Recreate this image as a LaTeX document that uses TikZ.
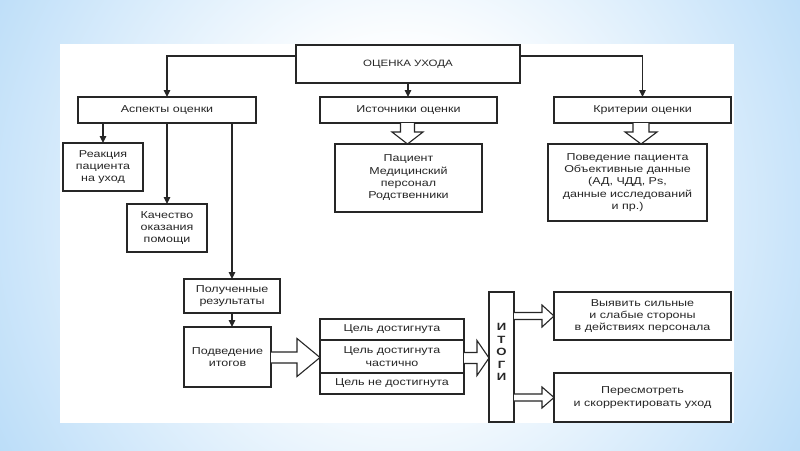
\documentclass[tikz,border=0pt]{standalone}
\usepackage{fontspec}
\setmainfont{Liberation Sans}[FakeStretch=1.25]
\usetikzlibrary{arrows.meta,calc}
\pgfdeclareradialshading{bgshade}{\pgfpoint{0bp}{0bp}}{rgb(0bp)=(1,1,1); rgb(9bp)=(1,1,1); rgb(38bp)=(0.6,0.8,0.96); rgb(50bp)=(0.58,0.79,0.96)}
\newcommand{\hArrowR}[6]{\draw[hollow] (#1,#3-#4) -- (#2-#6,#3-#4) -- (#2-#6,#3-#5) -- (#2,#3) -- (#2-#6,#3+#5) -- (#2-#6,#3+#4) -- (#1,#3+#4);}
\newcommand{\vArrowD}[6]{\draw[hollow] (#1-#4,#2) -- (#1-#4,#3-#6) -- (#1-#5,#3-#6) -- (#1,#3) -- (#1+#5,#3-#6) -- (#1+#4,#3-#6) -- (#1+#4,#2);}
\begin{document}
\begin{tikzpicture}[x=1pt,y=-1pt,
  font=\fontsize{10}{12.3}\selectfont,
  box/.style={draw=black!85, line width=1.3pt, fill=white, inner sep=1pt, outer sep=0pt, align=center, text=black!85},
  conn/.style={draw=black!85, line width=1.2pt, -{Triangle[length=7pt,width=6.5pt]}},
  hollow/.style={draw=black!85, line width=1.1pt, fill=white, line join=miter}]
\useasboundingbox (0,0) rectangle (800,450);
\begin{scope}
  \clip (0,0) rectangle (800,450);
  \path[shading=bgshade] (-10,-220) rectangle (810,640);
\end{scope}
\fill[white] (60,44) rectangle (734,423);

% nodes
\node[box, minimum width=224, minimum height=38, font=\fontsize{9.2}{11}\selectfont] (top) at (408,64) {ОЦЕНКА УХОДА};
\node[box, minimum width=178, minimum height=26] (asp) at (167,110) {Аспекты оценки};
\node[box, minimum width=177, minimum height=26] (ist) at (408.5,110) {Источники оценки};
\node[box, minimum width=177, minimum height=26] (krit) at (642.5,110) {Критерии оценки};
\node[box, minimum width=80, minimum height=48] (reak) at (103,167) {Реакция\\пациента\\на уход};
\node[box, minimum width=80, minimum height=48] (kach) at (167,228) {Качество\\оказания\\помощи};
\node[box, minimum width=147, minimum height=68] (pac) at (408.5,178) {Пациент\\Медицинский\\персонал\\Родственники};
\node[box, minimum width=159, minimum height=77] (pov) at (627.5,182.5) {Поведение пациента\\Объективные данные\\(АД, ЧДД, Ps,\\данные исследований\\и пр.)};
\node[box, minimum width=96, minimum height=34] (pol) at (232,296) {Полученные\\результаты};
\node[box, minimum width=87, minimum height=60] (podv) at (227.5,357) {Подведение\\итогов};
\node[box, minimum width=144, minimum height=21] (cel1) at (392,329.5) {Цель достигнута};
\node[box, minimum width=144, minimum height=33] (cel2) at (392,356.5) {Цель достигнута\\частично};
\node[box, minimum width=144, minimum height=21] (cel3) at (392,383.5) {Цель не достигнута};
\node[box, minimum width=25, minimum height=130] (itogi) at (501.5,357) {};
\node[text=black!85, align=center, inner sep=0pt, font=\fontsize{10.5}{12.4}\selectfont\bfseries] (itogitxt) at ($(itogi.center)+(0,-5)$) {И\\Т\\О\\Г\\И};
\node[box, minimum width=177, minimum height=48] (vyav) at (642.5,316) {Выявить сильные\\и слабые стороны\\в действиях персонала};
\node[box, minimum width=177, minimum height=49] (peres) at (642.5,397.5) {Пересмотреть\\и скорректировать уход};

% connectors
\draw[conn] ($(top.north west)+(0,11)$) -| (asp.north);
\draw[conn] ($(top.north east)+(0,11)$) -| (krit.north);
\draw[conn] (top.south) -- (top.south |- ist.north);
\draw[conn] (reak.north |- asp.south) -- (reak.north);
\draw[conn] (kach.north |- asp.south) -- (kach.north);
\draw[conn] (pol.north |- asp.south) -- (pol.north);
\draw[conn] (pol.south) -- (pol.south |- podv.north);

% hollow arrows
\vArrowD{407.5}{123}{144}{7}{15.5}{12}
\vArrowD{641}{123}{144}{8}{16}{12}
\hArrowR{271}{320}{357.5}{5.5}{19}{23}
\hArrowR{464}{489}{358}{5.5}{17.5}{12}
\hArrowR{514}{554}{316}{3.5}{11}{12}
\hArrowR{514}{554}{397.5}{3.5}{10.5}{12}
\end{tikzpicture}
\end{document}
